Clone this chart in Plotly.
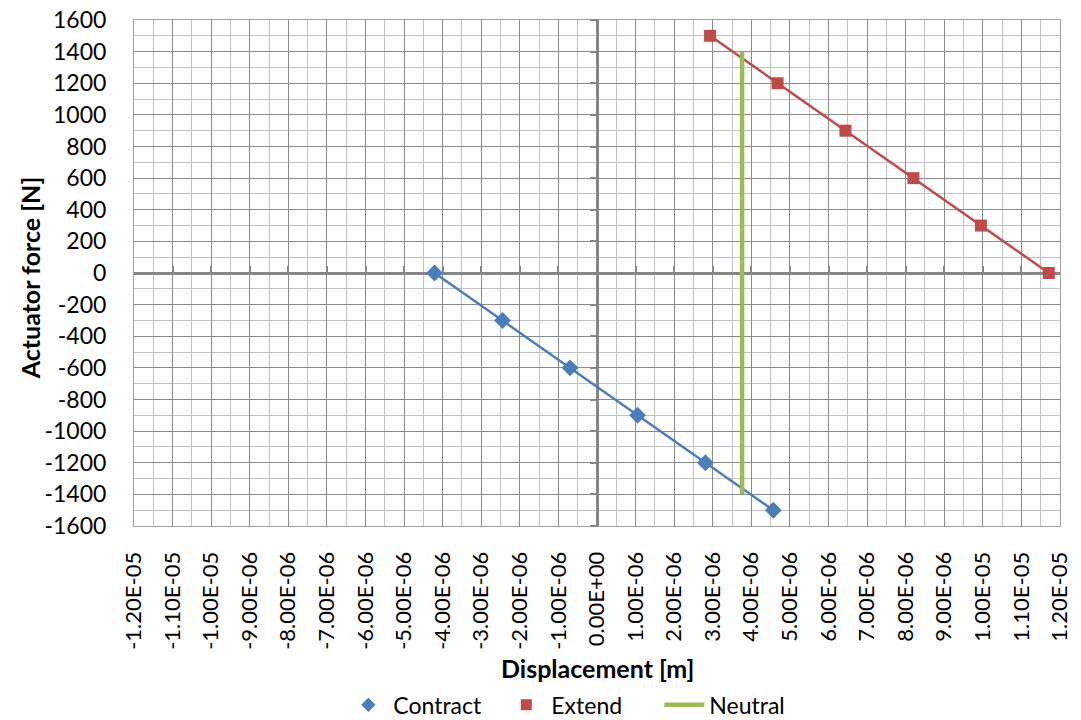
import plotly.graph_objects as go

# ---- data ----
contract_x = [-4.21e-6, -2.45e-6, -0.70e-6, 1.05e-6, 2.81e-6, 4.57e-6]
contract_y = [0, -300, -600, -900, -1200, -1500]

extend_x = [2.93e-6, 4.68e-6, 6.44e-6, 8.20e-6, 9.95e-6, 11.71e-6]
extend_y = [1500, 1200, 900, 600, 300, 0]

neutral_x = [3.76e-6, 3.76e-6]
neutral_y = [-1400, 1400]

x_tick_vals = [i * 1e-6 for i in range(-12, 13)]
x_tick_text = [f"{v:.2E}" for v in x_tick_vals]
y_tick_vals = list(range(-1600, 1601, 200))
y_tick_text = [str(v) for v in y_tick_vals]

BLUE = "#4A7EBB"
RED = "#BE4B48"
GREEN = "#9BBB59"
AXIS = "#868686"
FONT = "Lato"

fig = go.Figure()

fig.add_trace(go.Scatter(x=contract_x, y=contract_y, mode="lines+markers",
                         line=dict(color=BLUE, width=2.5),
                         marker=dict(symbol="diamond", size=13, color=BLUE),
                         showlegend=False, name="Contract"))
fig.add_trace(go.Scatter(x=extend_x, y=extend_y, mode="lines+markers",
                         line=dict(color=RED, width=2.5),
                         marker=dict(symbol="square", size=12, color=RED),
                         showlegend=False, name="Extend"))
fig.add_trace(go.Scatter(x=neutral_x, y=neutral_y, mode="lines",
                         line=dict(color=GREEN, width=4.5),
                         showlegend=False, name="Neutral"))

# legend entries (Excel style: markers only for the scatter series)
fig.add_trace(go.Scatter(x=[None], y=[None], mode="markers", name="Contract",
                         marker=dict(symbol="diamond", size=11, color=BLUE)))
fig.add_trace(go.Scatter(x=[None], y=[None], mode="markers", name="Extend",
                         marker=dict(symbol="square", size=11, color=RED)))
fig.add_trace(go.Scatter(x=[None], y=[None], mode="lines", name="Neutral",
                         line=dict(color=GREEN, width=4.5)))

# invisible trace to hold the zero-crossing tick axes
fig.add_trace(go.Scatter(x=[None], y=[None], xaxis="x2", yaxis="y2",
                         showlegend=False, hoverinfo="skip"))

xr = [x_tick_vals[0], x_tick_vals[-1]]
yr = [y_tick_vals[0], y_tick_vals[-1]]

fig.update_layout(
    width=1081, height=720,
    margin=dict(l=134, r=21, t=20, b=194, autoexpand=False),
    paper_bgcolor="white", plot_bgcolor="white",
    font=dict(family=FONT, color="black"),
    showlegend=True,
    legend=dict(orientation="h", x=0.482, xanchor="center",
                yref="container", y=0.021, yanchor="middle",
                font=dict(size=23, family=FONT), itemwidth=40,
                entrywidth=103, tracegroupgap=0),
    xaxis=dict(range=xr, tickmode="array", tickvals=x_tick_vals, ticktext=x_tick_text,
               tickangle=-90, tickfont=dict(size=22, family=FONT),
               ticks="", ticklabelstandoff=16, automargin=False,
               showgrid=True, gridcolor="#8a8a8a", gridwidth=1,
               minor=dict(dtick=5e-7, showgrid=True, gridcolor="#c2c2c2", gridwidth=1),
               zeroline=True, zerolinecolor=AXIS, zerolinewidth=3,
               showline=True, linecolor="#a0a0a0", linewidth=1, mirror=True),
    yaxis=dict(range=yr, tickmode="array", tickvals=y_tick_vals, ticktext=y_tick_text,
               tickfont=dict(size=23, family=FONT),
               ticks="", ticklabelstandoff=22, automargin=False,
               showgrid=True, gridcolor="#8a8a8a", gridwidth=1,
               minor=dict(dtick=100, showgrid=True, gridcolor="#c2c2c2", gridwidth=1),
               zeroline=True, zerolinecolor=AXIS, zerolinewidth=3,
               showline=True, linecolor="#a0a0a0", linewidth=1, mirror=True),
    xaxis2=dict(overlaying="x", anchor="free", position=0.5, range=xr, automargin=False,
                tickmode="array", tickvals=x_tick_vals, showticklabels=False,
                ticks="inside", ticklen=7, tickwidth=2, tickcolor=AXIS,
                showgrid=False, zeroline=False, showline=False),
    yaxis2=dict(overlaying="y", anchor="free", position=0.5, range=yr, automargin=False,
                tickmode="array", tickvals=y_tick_vals, showticklabels=False,
                ticks="outside", ticklen=7, tickwidth=2, tickcolor=AXIS,
                showgrid=False, zeroline=False, showline=False),
    annotations=[
        dict(text="<b>Displacement [m]</b>", xref="paper", yref="paper",
             x=0.5, y=-0.28, xanchor="center", yanchor="middle", showarrow=False,
             font=dict(size=25, family=FONT)),
        dict(text="<b>Actuator force [N]</b>", xref="paper", yref="paper",
             x=-0.112, y=0.49, xanchor="center", yanchor="middle", showarrow=False,
             textangle=-90, font=dict(size=25, family=FONT)),
    ],
)

fig.write_html("out.html")
